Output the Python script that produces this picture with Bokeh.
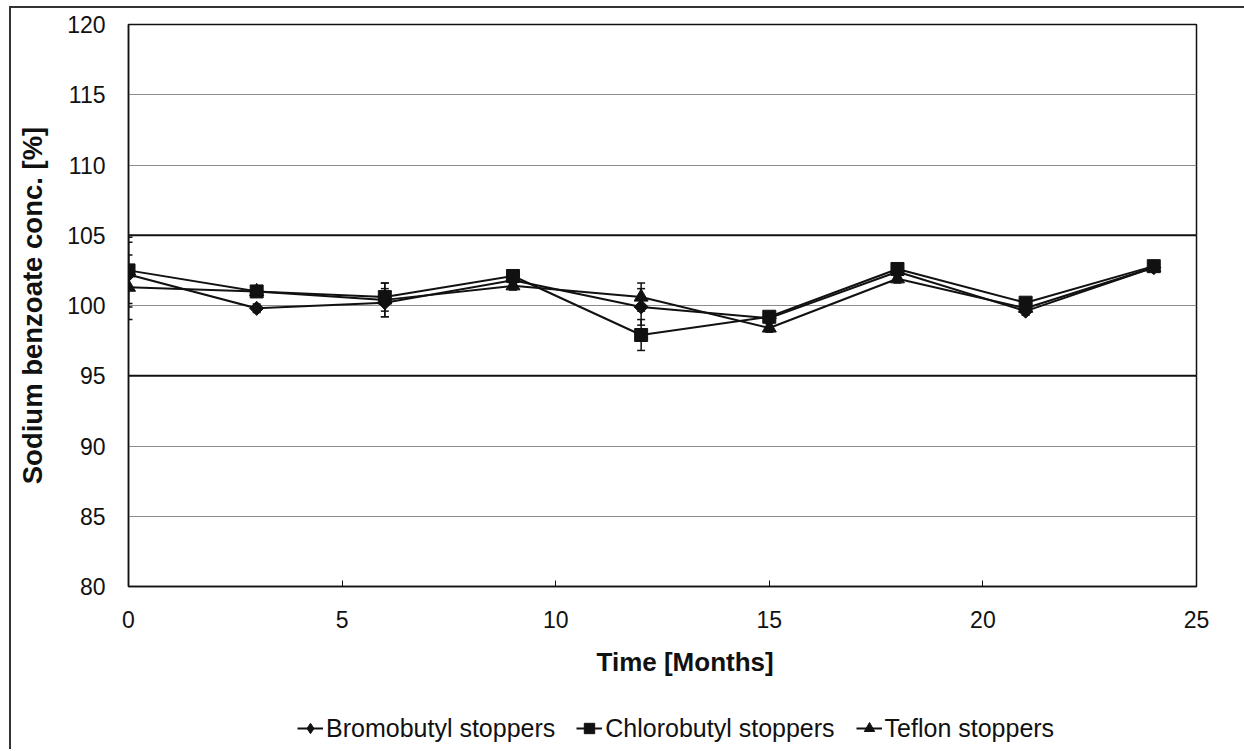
import numpy as np
from bokeh.plotting import figure
from bokeh.layouts import column
from bokeh.models import (ColumnDataSource, Whisker, TeeHead, Span, Legend,
                          LegendItem, FixedTicker, Range1d, Title)
from bokeh.embed import file_html
from bokeh.resources import INLINE

# Sodium benzoate content over storage time for three stopper types
months = [0, 3, 6, 9, 12, 15, 18, 21, 24]

bromobutyl = [102.2, 99.8, 100.2, 101.8, 99.9, 99.1, 102.4, 99.6, 102.7]
bromobutyl_sd = [2.3, 0.3, 1.0, 0.3, 1.3, 0.3, 0.3, 0.3, 0.2]

chlorobutyl = [102.5, 101.0, 100.6, 102.1, 97.9, 99.2, 102.6, 100.2, 102.8]
chlorobutyl_sd = [2.35, 0.3, 1.0, 0.3, 1.1, 0.3, 0.3, 0.3, 0.2]

teflon = [101.3, 101.0, 100.4, 101.4, 100.6, 98.4, 101.9, 99.8, 102.7]
teflon_sd = [2.3, 0.3, 1.2, 0.3, 1.0, 0.3, 0.3, 0.3, 0.2]

y_ticks = [80, 85, 90, 95, 100, 105, 110, 115, 120]
x_ticks = [0, 5, 10, 15, 20, 25]
spec_limits = [95, 105]

FONT = "Liberation Sans"
INK = "#111111"
W = 1233

p = figure(width=W, height=690, output_backend="svg", toolbar_location=None,
           x_range=Range1d(0, 25), y_range=Range1d(80, 120),
           min_border_left=117, min_border_right=48,
           min_border_top=16, min_border_bottom=112)

p.outline_line_color = INK
p.outline_line_width = 1.5
p.background_fill_color = "white"
p.border_fill_color = "white"

# grid
p.xgrid.visible = False
p.ygrid.ticker = FixedTicker(ticks=y_ticks)
p.ygrid.grid_line_color = "#8c8c8c"
p.ygrid.grid_line_width = 1

# axes
p.xaxis.ticker = FixedTicker(ticks=x_ticks)
p.yaxis.ticker = FixedTicker(ticks=y_ticks)
for ax in (p.xaxis[0], p.yaxis[0]):
    ax.axis_line_color = INK
    ax.axis_line_width = 1.5
    ax.major_tick_line_color = INK
    ax.minor_tick_line_color = None
    ax.major_label_text_font = FONT
    ax.major_label_text_font_size = "23px"
    ax.major_label_text_color = INK

p.xaxis.major_tick_in = 6
p.xaxis.major_tick_out = 0
p.xaxis.major_label_standoff = 24

p.yaxis.major_tick_in = 0
p.yaxis.major_tick_out = 0
p.yaxis.major_label_standoff = 23
p.yaxis.axis_label = "Sodium benzoate conc. [%]"
p.yaxis.axis_label_standoff = 16
p.yaxis.axis_label_text_font = FONT
p.yaxis.axis_label_text_font_size = "27.5px"
p.yaxis.axis_label_text_font_style = "bold"
p.yaxis.axis_label_text_color = INK

# x-axis title, set slightly right of the frame centre
p.add_layout(Title(text="Time [Months]", align="left", offset=468,
                   text_font=FONT, text_font_size="26px",
                   text_font_style="bold", text_color=INK, standoff=28), "below")

# specification limits
for lim in spec_limits:
    p.add_layout(Span(location=lim, dimension="width", line_color=INK, line_width=1.8))

series = [
    ("Bromobutyl stoppers", bromobutyl, bromobutyl_sd, "diamond"),
    ("Chlorobutyl stoppers", chlorobutyl, chlorobutyl_sd, "square"),
    ("Teflon stoppers", teflon, teflon_sd, "triangle"),
]

for name, vals, sd, marker in series:
    v = np.array(vals)
    e = np.array(sd)
    src = ColumnDataSource(dict(x=months, y=vals, lo=v - e, hi=v + e))
    w = Whisker(source=src, base="x", upper="hi", lower="lo",
                line_color=INK, line_width=1.5,
                upper_head=TeeHead(size=8, line_color=INK, line_width=1.5),
                lower_head=TeeHead(size=8, line_color=INK, line_width=1.5))
    p.add_layout(w)
    p.line("x", "y", source=src, line_color=INK, line_width=2)
    if marker == "diamond":
        p.scatter("x", "y", source=src, marker="square", angle=np.pi / 4,
                  size=10, fill_color=INK, line_color=INK)
    elif marker == "square":
        p.scatter("x", "y", source=src, marker="square", size=13,
                  fill_color=INK, line_color=INK)
    else:
        p.scatter("x", "y", source=src, marker="triangle", size=14,
                  fill_color=INK, line_color=INK)

# legend strip beneath the chart (same side borders as the chart)
leg = figure(width=W, height=51, output_backend="svg", toolbar_location=None,
             x_range=Range1d(0, 1), y_range=Range1d(0, 1),
             min_border_left=117, min_border_right=48,
             min_border_top=9, min_border_bottom=0)
leg.axis.visible = False
leg.grid.visible = False
leg.outline_line_color = None
leg.background_fill_color = "white"
leg.border_fill_color = "white"

# swatch renderers sit outside the strip's visible range
swatch = ColumnDataSource(dict(x=[-5, -4], y=[-5, -5]))
items = []
for name, vals, sd, marker in series:
    ln = leg.line("x", "y", source=swatch, line_color=INK, line_width=2)
    mk = leg.scatter("x", "y", source=swatch, marker=marker,
                     fill_color=INK, line_color=INK)
    items.append(LegendItem(label=name, renderers=[ln, mk]))

legend = Legend(items=items, orientation="horizontal", location=(169, 5),
                label_text_font=FONT, label_text_font_size="25px",
                label_text_color=INK, glyph_width=26, glyph_height=32,
                label_standoff=3, spacing=21, border_line_color=None,
                background_fill_alpha=0, padding=0, margin=0)
leg.add_layout(legend)

page = column(p, leg, spacing=0, margin=(6, 0, 0, 9),
              styles={"border-left": "2px solid #333333",
                      "border-top": "2px solid #333333"})

open("out.html", "w").write(file_html(page, INLINE))
